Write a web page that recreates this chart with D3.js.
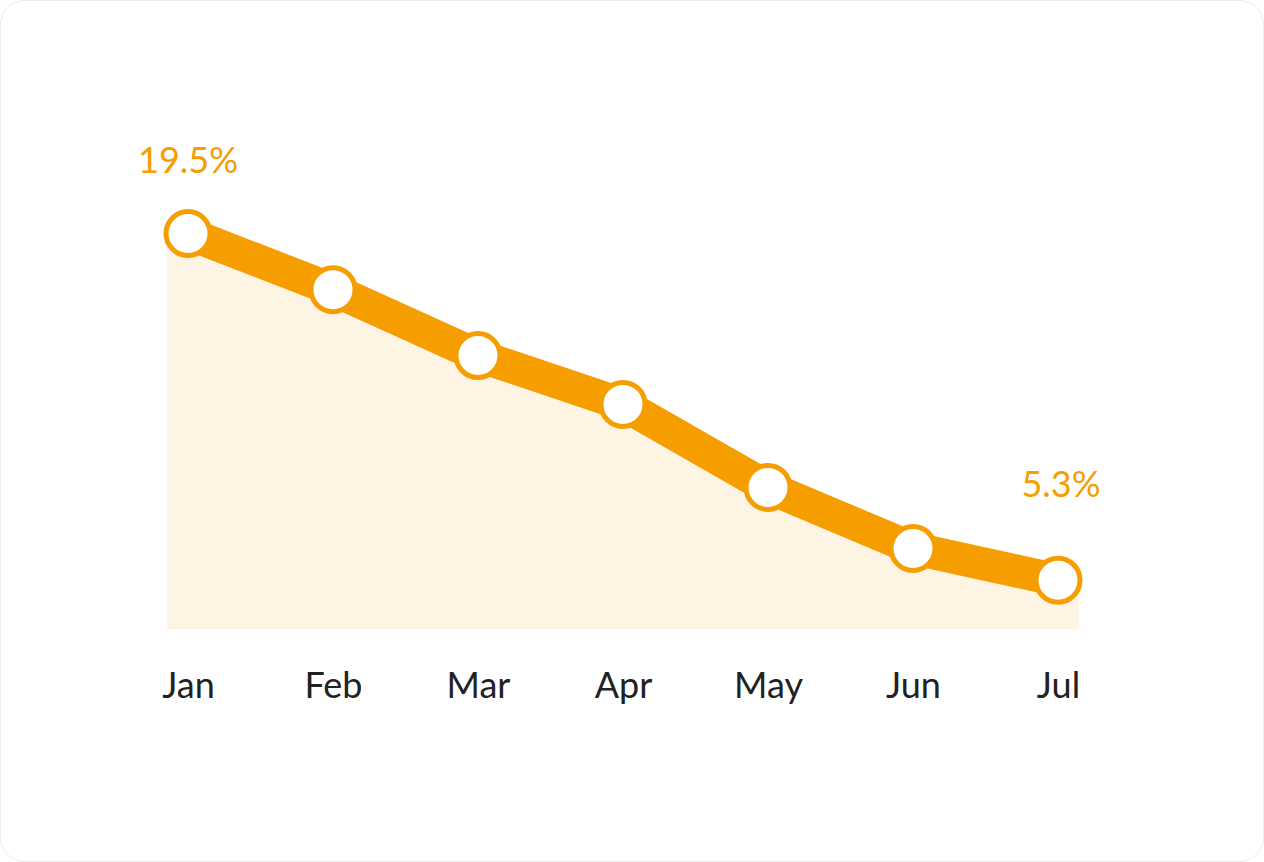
<!DOCTYPE html>
<html>
<head>
<meta charset="utf-8">
<script src="https://cdn.jsdelivr.net/npm/d3@7"></script>
<style>
  html, body { margin: 0; padding: 0; background: #ffffff; }
  svg { display: block; }
</style>
</head>
<body>
<svg id="chart" width="1264" height="862"></svg>
<script>
// ---- data ----
const months = ["Jan", "Feb", "Mar", "Apr", "May", "Jun", "Jul"];
const rates = [19.5, 17.2, 14.5, 12.5, 9.1, 6.6, 5.3];
const valueLabels = ["19.5%", "5.3%"]; // first and last point

// ---- style ----
const ORANGE = "#F69D00";
const FILL = "#FDF4E3";
const FONT = "Lato, 'Open Sans', sans-serif";

const W = 1264, H = 862;
const svg = d3.select("#chart");

// card
svg.append("rect")
  .attr("x", 0.5).attr("y", 0.5)
  .attr("width", W - 1).attr("height", H - 1)
  .attr("rx", 24).attr("ry", 24)
  .attr("fill", "#ffffff")
  .attr("stroke", "#ececec")
  .attr("stroke-width", 1);

const data = months.map((m, i) => ({ m, v: rates[i] }));

const x = d3.scalePoint().domain(months).range([188, 1058]);
const y = d3.scaleLinear().domain([3.3, 19.5]).range([629, 233.5]);

const R = 22;         // marker radius
const pad = 21;       // area overhang beyond first/last point

// area (extends horizontally under the end markers)
const areaPts = [
  [x(months[0]) - pad, y(rates[0])],
  ...data.map(d => [x(d.m), y(d.v)]),
  [x(months[months.length - 1]) + pad, y(rates[rates.length - 1])]
];
const area = d3.area()
  .x(d => d[0])
  .y0(y(3.3))
  .y1(d => d[1]);
svg.append("path")
  .datum(areaPts)
  .attr("d", area)
  .attr("fill", FILL);

// line
const line = d3.line().x(d => x(d.m)).y(d => y(d.v));
svg.append("path")
  .datum(data)
  .attr("d", line)
  .attr("fill", "none")
  .attr("stroke", ORANGE)
  .attr("stroke-width", 33)
  .attr("stroke-linejoin", "round");

// markers
svg.selectAll("circle.pt")
  .data(data)
  .join("circle")
  .attr("class", "pt")
  .attr("cx", d => x(d.m))
  .attr("cy", d => y(d.v))
  .attr("r", R)
  .attr("fill", "#ffffff")
  .attr("stroke", ORANGE)
  .attr("stroke-width", 5);

// value labels on first and last points
const ends = [
  { d: data[0], text: valueLabels[0], dy: -61, dx: 0 },
  { d: data[data.length - 1], text: valueLabels[1], dy: -83, dx: 3 }
];
svg.selectAll("text.val")
  .data(ends)
  .join("text")
  .attr("class", "val")
  .attr("x", e => x(e.d.m) + e.dx)
  .attr("y", e => y(e.d.v) + e.dy)
  .attr("text-anchor", "middle")
  .attr("font-family", FONT)
  .attr("font-weight", 400)
  .attr("font-size", 36)
  .attr("fill", ORANGE)
  .text(e => e.text);

// x axis labels (no domain line, no ticks)
const xAxis = d3.axisBottom(x).tickSize(0).tickPadding(0);
const gx = svg.append("g")
  .attr("transform", "translate(0,698)")
  .call(xAxis);
gx.select(".domain").remove();
gx.selectAll("text")
  .attr("dy", 0)
  .attr("y", 0)
  .attr("font-family", FONT)
  .attr("font-weight", 400)
  .attr("font-size", 36)
  .attr("fill", "#222222");
</script>
</body>
</html>
